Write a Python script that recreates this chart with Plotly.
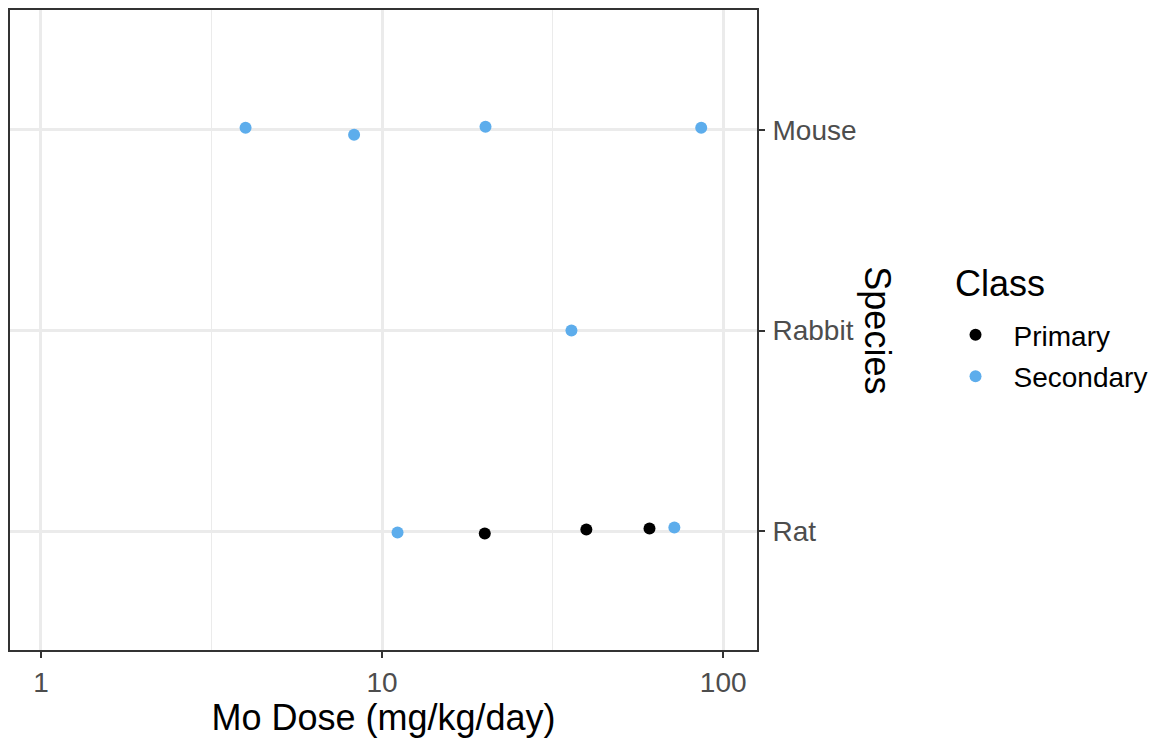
import plotly.graph_objects as go

# Data
species_labels = ["Rat", "Rabbit", "Mouse"]
species_pos = [1, 2, 3]

primary_dose = [20.0, 39.7, 60.8]
primary_species_jit = [0.99, 1.01, 1.015]

secondary_dose = [3.98, 8.28, 20.1, 86.2, 35.9, 11.1, 71.9]
secondary_species_jit = [3.01, 2.975, 3.015, 3.01, 2.0, 0.995, 1.02]

x_ticks = [1, 10, 100]
x_minor = [3.1623, 31.623]

BLUE = "#5DADEC"
FONT = "Liberation Sans, Arial, sans-serif"

# page body has an 8px margin; work in figure coordinates
W, H = 1151, 733
L, T = 0, 0
PW, PH = 749, 642
R, B = W - L - PW, H - T - PH

fig = go.Figure()
fig.add_trace(go.Scatter(x=primary_dose, y=primary_species_jit, mode="markers",
                         name="Primary", legendgroup="p",
                         marker=dict(color="black", size=12)))
fig.add_trace(go.Scatter(x=secondary_dose, y=secondary_species_jit, mode="markers",
                         name="Secondary", legendgroup="s",
                         marker=dict(color=BLUE, size=12)))

def px(xp):  # page pixel -> paper x
    return (xp - 8 - L) / PW
def py(yp):  # page pixel -> paper y
    return (8 + T + PH - yp) / PH

fig.update_layout(
    width=W, height=H,
    margin=dict(l=L, r=R, t=T, b=B, pad=0),
    plot_bgcolor="white", paper_bgcolor="white",
    font=dict(family=FONT, color="black"),
    showlegend=True,
    legend=dict(x=px(938), y=py(309), xanchor="left", yanchor="top",
                font=dict(size=28, color="black"), tracegroupgap=2,
                itemwidth=66,
                bgcolor="rgba(0,0,0,0)"),
    xaxis=dict(type="log", range=[-0.0906, 2.099],
               tickvals=x_ticks, ticktext=[str(v) for v in x_ticks],
               ticks="outside", ticklen=6, tickwidth=1.5, tickcolor="#333333",
               tickfont=dict(size=28, color="#4D4D4D"),
               showgrid=True, gridcolor="#EBEBEB", gridwidth=2.6,
               minor=dict(tickvals=x_minor, showgrid=True, gridcolor="#EBEBEB", gridwidth=1.4, ticks=""),
               showline=True, linecolor="#333333", linewidth=1.8, mirror=True,
               zeroline=False,
               title=dict(text="Mo Dose (mg/kg/day)", font=dict(size=36, color="black"), standoff=5)),
    yaxis=dict(range=[0.41, 3.596], side="right",
               tickvals=species_pos, ticktext=species_labels,
               ticks="outside", ticklen=6, tickwidth=1.5, tickcolor="#333333",
               ticklabelstandoff=2,
               tickfont=dict(size=28, color="#4D4D4D"),
               showgrid=True, gridcolor="#EBEBEB", gridwidth=2.6,
               showline=True, linecolor="#333333", linewidth=1.8, mirror=True,
               zeroline=False),
)

fig.add_annotation(text="Species", x=px(878), y=py(329), xref="paper", yref="paper",
                   showarrow=False, textangle=90, font=dict(size=36, color="black"),
                   xanchor="center", yanchor="middle")
fig.add_annotation(text="Class", x=px(954), y=py(282), xref="paper", yref="paper",
                   showarrow=False, font=dict(size=36, color="black"),
                   xanchor="left", yanchor="middle")

fig.write_html("out.html")
